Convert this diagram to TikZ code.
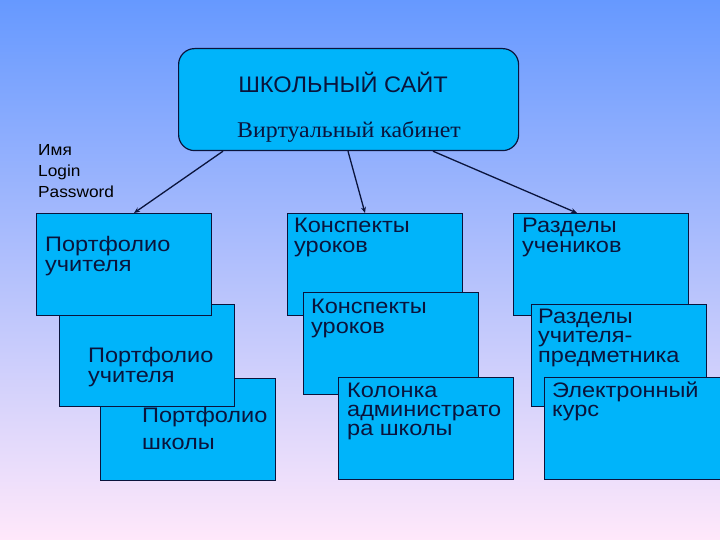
\documentclass[tikz,border=0pt]{standalone}
\usepackage{fontspec}
\setmainfont{Liberation Sans}
\newfontfamily\wideF{Liberation Sans}[FakeStretch=1.12]
\newfontfamily\smallF{Liberation Sans}[FakeStretch=1.08]
\newfontfamily\titleF{Liberation Sans}[FakeStretch=1.05]
\newfontfamily\serifF{Liberation Serif}[FakeStretch=1.06]
\usetikzlibrary{arrows.meta,calc}
\definecolor{bgtop}{RGB}{102,153,255}
\definecolor{bgmid}{RGB}{160,200,250}
\definecolor{bgbot}{RGB}{255,232,250}
\definecolor{boxfill}{RGB}{0,180,250}
\definecolor{boxedge}{RGB}{10,20,60}
\begin{document}
\begin{tikzpicture}[x=1pt,y=-1pt,
  card/.style={draw=boxedge, fill=boxfill, line width=1.2pt, anchor=north west,
    inner sep=0pt, minimum width=175pt, minimum height=102pt},
  sitebox/.style={draw=boxedge, fill=boxfill, line width=1.2pt, anchor=north west,
    inner sep=0pt, minimum width=340pt, minimum height=102pt, rounded corners=16pt},
  lbl/.style={anchor=base west, inner sep=0pt, align=left, text=boxedge,
    font=\wideF\fontsize{21}{20}\selectfont},
  small/.style={anchor=base west, inner sep=0pt, align=left, text=black,
    font=\smallF\fontsize{16}{21.5}\selectfont},
  conn/.style={draw=boxedge, line width=1.3pt, -{Stealth[length=6pt,width=5pt]}}]
\useasboundingbox (0,0) rectangle (720,540);
\shade[top color=bgtop, middle color=bgmid, bottom color=bgbot] (0,0) rectangle (720,540);

% top box
\node[sitebox] (site) at (178,48) {};
\node[anchor=base, inner sep=0pt, text=boxedge, font=\titleF\fontsize{22.5}{24}\selectfont] (title) at (343,93) {ШКОЛЬНЫЙ САЙТ};
\node[anchor=base, inner sep=0pt, text=boxedge, font=\serifF\fontsize{22.5}{24}\selectfont] (cab) at (349,138) {Виртуальный кабинет};

% base anchor = baseline of the last line
\node[small] (login) at (38,198) {Имя\\Login\\Password};

% left column
\node[card] (L3) at (100,378) {};
\node[card] (L2) at (59,304) {};
\node[card] (L1) at (36,213) {};
\node[lbl] (tL1) at (45,271) {Портфолио\\учителя};
\node[lbl] (tL2) at (88,382) {Портфолио\\учителя};
\node[lbl] (tL3) at (142,449) {Портфолио\\[7pt]школы};

% middle column
\node[card] (M1) at (287,213) {};
\node[card] (M2) at (303,292) {};
\node[card] (M3) at (338,377) {};
\node[lbl] (tM1) at (294,252) {Конспекты\\уроков};
\node[lbl] (tM2) at (311,333) {Конспекты\\уроков};
\node[lbl, font=\wideF\fontsize{21}{19}\selectfont] (tM3) at (347,435) {Колонка\\администрато\\ра школы};

% right column
\node[card] (R1) at (513,213) {};
\node[card] (R2) at (531,304) {};
\node[card, minimum width=180pt] (R3) at (544,377) {};
\node[lbl] (tR1) at (522,252) {Разделы\\учеников};
\node[lbl, font=\wideF\fontsize{21}{19.5}\selectfont] (tR2) at (538,362) {Разделы\\учителя-\\предметника};
\node[lbl, font=\wideF\fontsize{21}{19}\selectfont] (tR3) at (552,416) {Электронный\\курс};

% connectors
\draw[conn] ($(site.south west)+(45,0)$) -- ($(L1.north west)+(98,0)$);
\draw[conn] ($(site.south west)+(170,0)$) -- ($(M1.north west)+(78,0)$);
\draw[conn] ($(site.south west)+(255,0)$) -- ($(R1.north west)+(64,0)$);
\end{tikzpicture}
\end{document}
